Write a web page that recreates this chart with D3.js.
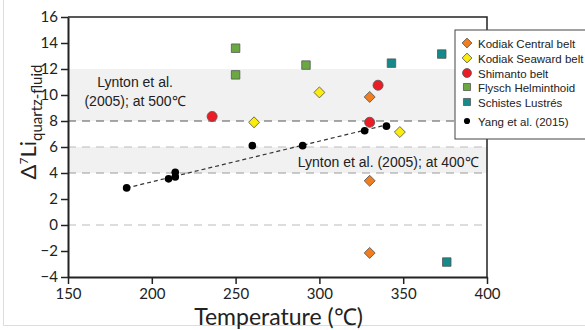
<!DOCTYPE html>
<html>
<head>
<meta charset="utf-8">
<script src="https://cdn.jsdelivr.net/npm/d3@7"></script>
<style>
  body { margin: 0; background: #fff; }
  text { font-family: "Liberation Sans", Arial, sans-serif; fill: #222; }
</style>
</head>
<body>
<script>
// values: temperature (°C) and Δ7Li
const kodiakCentral = [[330, 9.85], [330, 3.4], [330, -2.15]]
const kodiakSeaward = [[261, 7.9], [300, 10.2], [348, 7.15]]
const shimanto = [[236, 8.35], [330, 7.9], [335, 10.75]]
const flysch = [[250, 13.6], [250, 11.55], [292, 12.3]]
const schistes = [[343, 12.45], [373, 13.15], [376, -2.85]]
const yang = [[185, 2.85], [210, 3.55], [214, 3.7], [214, 4.05], [260, 6.1], [290, 6.1], [327, 7.25], [340, 7.6]]
const yangFit = [[185, 2.85], [340, 7.7]]

const bands = [[8, 12], [4, 6]]
const refLines = [8, 6, 4, 0]

const xTicks = [150, 200, 250, 300, 350, 400]
const yTicks = [-4, -2, 0, 2, 4, 6, 8, 10, 12, 14, 16]

const series = [
  {name: 'Kodiak Central belt', data: kodiakCentral, shape: 'diamond', color: '#f07d1e'},
  {name: 'Kodiak Seaward belt', data: kodiakSeaward, shape: 'diamond', color: '#fbec0c'},
  {name: 'Shimanto belt', data: shimanto, shape: 'circle', color: '#ec1c24'},
  {name: 'Flysch Helminthoid', data: flysch, shape: 'square', color: '#6aa842'},
  {name: 'Schistes Lustrés', data: schistes, shape: 'square', color: '#158a8a'},
  {name: 'Yang et al. (2015)', data: yang, shape: 'dot', color: '#000'}
]

const W = 585, H = 330
const margin = {top: 17, right: 98, bottom: 53, left: 68}
const width = W - margin.left - margin.right
const height = H - margin.top - margin.bottom

const svg = d3.select('body').append('svg')
  .attr('width', W).attr('height', H)

// faint image frame
svg.append('path')
  .attr('d', 'M3.5,0 V325.5 H585')
  .attr('fill', 'none').attr('stroke', '#ddd')

const g = svg.append('g')
  .attr('transform', 'translate(' + margin.left + ',' + margin.top + ')')

const x = d3.scaleLinear().domain([150, 400]).range([0, width])
const y = d3.scaleLinear().domain([-4, 16]).range([height, 0])

g.selectAll('.band')
  .data(bands)
  .enter().append('rect')
  .attr('class', 'band')
  .attr('x', 0).attr('width', width)
  .attr('y', d => y(d[1]))
  .attr('height', d => y(d[0]) - y(d[1]))
  .attr('fill', '#f1f1f1')

const lineColor = {8: '#555', 6: '#bbb', 4: '#999', 0: '#bbb'}
g.selectAll('.ref')
  .data(refLines)
  .enter().append('line')
  .attr('class', 'ref')
  .attr('x1', 0).attr('x2', width)
  .attr('y1', d => y(d)).attr('y2', d => y(d))
  .attr('stroke', d => lineColor[d])
  .attr('stroke-width', 1.2)
  .attr('stroke-dasharray', '8,6')

// band labels
g.append('text')
  .attr('x', x(190)).attr('y', y(10.6))
  .attr('text-anchor', 'middle')
  .style('font-size', '14px')
  .text('Lynton et al.')
g.append('text')
  .attr('x', x(190)).attr('y', y(9.15))
  .attr('text-anchor', 'middle')
  .style('font-size', '14px')
  .text('(2005); at 500℃')
g.append('text')
  .attr('x', x(395)).attr('y', y(4.45))
  .attr('text-anchor', 'end')
  .style('font-size', '14px')
  .text('Lynton et al. (2005); at 400℃')

// fit line
g.append('path')
  .datum(yangFit)
  .attr('d', d3.line().x(d => x(d[0])).y(d => y(d[1])))
  .attr('fill', 'none')
  .attr('stroke', '#333')
  .attr('stroke-width', 1.2)
  .attr('stroke-dasharray', '4,3')

const symbolFor = {
  diamond: d3.symbol().type(d3.symbolSquare).size(60),
  circle: d3.symbol().type(d3.symbolCircle).size(80),
  square: d3.symbol().type(d3.symbolSquare).size(72),
  dot: d3.symbol().type(d3.symbolCircle).size(46)
}
const legendSymbol = {
  diamond: d3.symbol().type(d3.symbolSquare).size(48),
  circle: d3.symbol().type(d3.symbolCircle).size(62),
  square: d3.symbol().type(d3.symbolSquare).size(50),
  dot: d3.symbol().type(d3.symbolCircle).size(30)
}

function drawMarker(sel, s, sym) {
  sel.append('path')
    .attr('d', sym[s.shape]())
    .attr('transform', s.shape === 'diamond' ? 'rotate(45)' : null)
    .attr('fill', s.color)
    .attr('stroke', s.shape === 'dot' ? 'none' : '#555')
    .attr('stroke-width', 0.8)
}

series.forEach(s => {
  g.selectAll(null)
    .data(s.data)
    .enter().append('g')
    .attr('transform', d => 'translate(' + x(d[0]) + ',' + y(d[1]) + ')')
    .each(function() { drawMarker(d3.select(this), s, symbolFor) })
})

// frame top / right
g.append('path')
  .attr('d', 'M0,0 H' + width + ' V' + height)
  .attr('fill', 'none').attr('stroke', '#222').attr('stroke-width', 1.5)

const xAxis = g.append('g')
  .attr('transform', 'translate(0,' + height + ')')
  .call(d3.axisBottom(x).tickValues(xTicks).tickSize(7).tickPadding(4).tickSizeOuter(0))
const yAxis = g.append('g')
  .call(d3.axisLeft(y).tickValues(yTicks).tickSize(7).tickPadding(3).tickSizeOuter(0))

;[xAxis, yAxis].forEach(a => {
  a.select('.domain').attr('stroke', '#222').attr('stroke-width', 2)
  a.selectAll('.tick line').attr('stroke', '#222').attr('stroke-width', 1.5)
  a.selectAll('.tick text')
    .style('font-family', 'Lato, "Open Sans", sans-serif')
    .style('font-size', '15px').attr('fill', '#222')
})

// axis titles
svg.append('text')
  .attr('x', margin.left + width / 2 + 1).attr('y', 325)
  .attr('text-anchor', 'middle')
  .style('font-family', 'Lato, "Open Sans", sans-serif')
  .style('font-size', '23px')
  .text('Temperature (℃)')

const yl = svg.append('text')
  .attr('transform', 'translate(36,122) rotate(-90)')
  .attr('text-anchor', 'middle')
  .style('font-family', 'Lato, "Open Sans", sans-serif')
  .style('font-size', '22px')
yl.append('tspan').text('Δ')
yl.append('tspan').attr('dy', -8).style('font-size', '12px').text('7')
yl.append('tspan').attr('dy', 8).text('Li')
yl.append('tspan').attr('dy', 6).style('font-size', '15px').text('quartz-fluid')

// legend
const legend = svg.append('g').attr('transform', 'translate(455,30)')
legend.append('rect')
  .attr('x', 0).attr('y', 0).attr('width', 140).attr('height', 109)
  .attr('fill', '#fff').attr('stroke', '#444').attr('stroke-width', 1)

const rowY = [13, 28, 43, 57, 72, 91]
series.forEach((s, i) => {
  const row = legend.append('g')
    .attr('transform', 'translate(12,' + rowY[i] + ')')
  drawMarker(row, s, legendSymbol)
  row.append('text')
    .attr('x', 11).attr('y', 4.5)
    .style('font-size', '11.5px')
    .text(s.name)
})
</script>
</body>
</html>
